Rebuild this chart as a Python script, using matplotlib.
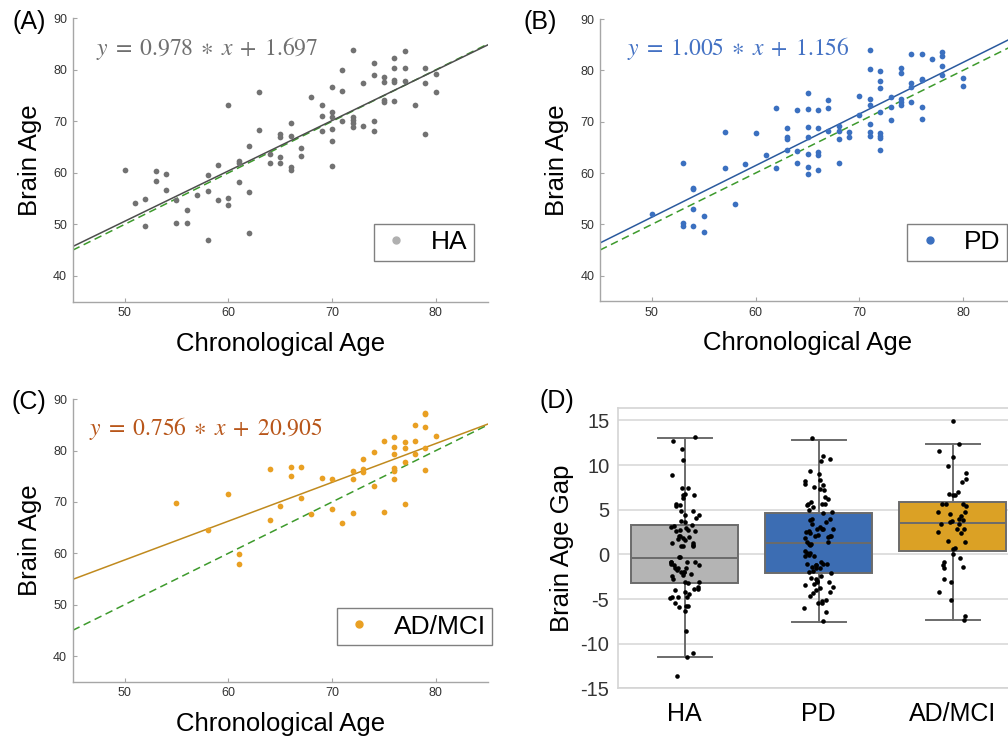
import numpy as np
import matplotlib
matplotlib.use('Agg')
import matplotlib.pyplot as plt
from matplotlib.lines import Line2D
import seaborn as sns

plt.rcParams['font.family'] = ['Liberation Sans', 'DejaVu Sans']
plt.rcParams['mathtext.fontset'] = 'stix'
plt.rcParams['axes.unicode_minus'] = False

# ---- data ----
ha_age = [50, 51, 52, 52, 53, 53, 54, 54, 55, 55, 56, 56, 57, 58, 58, 58,
          59, 59, 60, 60, 60, 61, 61, 61, 62, 62, 62, 63, 63, 64, 64,
          65, 65, 65, 65, 66, 66, 66, 66, 67, 67, 68, 69, 69, 69,
          70, 70, 70, 70, 70, 70, 71, 71, 71, 72, 72, 72, 72, 72, 73, 73,
          74, 74, 74, 74, 75, 75, 75, 75, 76, 76, 76, 76, 76,
          77, 77, 77, 78, 79, 79, 79, 80, 80]
ha_brain = [60.6, 54.1, 55.0, 49.7, 60.4, 58.5, 59.7, 56.7, 54.7, 50.2, 52.8, 50.2, 55.8, 59.6, 56.5, 46.9,
            61.6, 54.8, 73.1, 55.2, 53.7, 62.3, 61.9, 58.3, 65.2, 56.2, 48.4, 75.7, 68.4, 63.7, 62.0,
            67.6, 67.0, 63.0, 61.9, 69.7, 67.1, 61.2, 60.5, 64.8, 63.3, 74.8, 73.1, 71.1, 68.1,
            76.6, 71.8, 70.9, 68.5, 66.1, 61.4, 79.9, 75.9, 70.1, 83.8, 70.9, 70.2, 69.6, 68.9, 77.4, 69.1,
            81.4, 78.9, 70.0, 68.1, 78.6, 77.7, 74.1, 73.8, 82.3, 80.4, 78.1, 77.7, 74.0,
            83.6, 80.3, 77.9, 73.1, 80.3, 77.5, 67.5, 79.1, 75.6]

pd_age = [50, 53, 53, 53, 54, 54, 54, 54, 55, 55, 57, 57, 58, 59, 60, 61, 62, 62,
          63, 63, 63, 63, 64, 64, 64, 65, 65, 65, 65, 65, 65, 65,
          66, 66, 66, 66, 66, 67, 67, 67, 68, 68, 68, 68, 69, 69, 70, 70,
          71, 71, 71, 71, 71, 71, 71, 72, 72, 72, 72, 72, 72, 72, 72,
          73, 73, 73, 74, 74, 74, 74, 74, 75, 75, 75, 75,
          76, 76, 76, 76, 76, 77, 78, 78, 78, 78, 80, 80]
pd_brain = [52.1, 62.0, 50.2, 49.7, 57.1, 56.8, 52.9, 49.7, 51.6, 48.5, 68.0, 60.9, 54.0, 61.8, 67.8, 63.6, 72.7, 60.9,
            68.7, 67.0, 66.6, 64.4, 72.3, 64.2, 61.9, 75.5, 72.5, 69.0, 67.1, 63.8, 61.2, 59.8,
            72.2, 68.8, 64.0, 63.6, 60.6, 74.3, 72.7, 68.2, 69.2, 68.2, 66.6, 62.0, 67.9, 67.1, 75.0, 71.4,
            84.0, 80.3, 74.4, 73.2, 69.5, 67.9, 67.3, 79.9, 77.9, 76.6, 71.9, 67.8, 67.3, 66.9, 64.5,
            74.9, 72.8, 70.4, 80.4, 79.5, 74.4, 73.8, 73.2, 83.2, 77.5, 76.8, 73.8,
            83.2, 78.4, 78.1, 72.9, 70.6, 82.3, 83.6, 82.8, 80.8, 79.1, 78.5, 77.0]

ad_age = [55, 58, 60, 61, 61, 64, 64, 65, 66, 66, 67, 67, 68, 69, 70, 70, 71,
          72, 72, 72, 73, 73, 73, 74, 74, 75, 75, 76, 76, 76, 76, 76, 76,
          77, 77, 77, 77, 78, 78, 78, 79, 79, 79, 79, 79, 80]
ad_brain = [69.9, 64.6, 71.6, 59.8, 57.9, 76.4, 66.4, 69.3, 76.9, 75.1, 76.9, 70.7, 67.6, 74.7, 74.5, 68.6, 65.9,
            76.0, 74.5, 67.8, 78.4, 76.4, 75.9, 79.7, 73.2, 81.8, 68.1, 82.7, 80.8, 79.4, 76.6, 76.0, 74.5,
            81.7, 80.6, 77.7, 69.6, 85.0, 81.9, 79.4, 87.4, 87.1, 84.7, 80.5, 76.2, 82.9]

fits = {'HA': (0.978, 1.697), 'PD': (1.005, 1.156), 'AD/MCI': (0.756, 20.905)}

groups = ['HA', 'PD', 'AD/MCI']
box_q1 = [-3.17, -2.05, 0.41]
box_med = [-0.37, 1.31, 3.54]
box_q3 = [3.28, 4.63, 5.82]
box_lo = [-11.53, -7.54, -7.35]
box_hi = [13.02, 12.87, 12.35]

W, H = 1008, 736
fig = plt.figure(figsize=(W / 100, H / 100), dpi=100)


def px_axes(x0, y0, x1, y1):
    return fig.add_axes([x0 / W, 1 - y1 / H, (x1 - x0) / W, (y1 - y0) / H])


def scatter_panel(rect, age, brain, group, dot_c, leg_c, line_c, eq_c, eq_xy, leg_xy):
    ax = px_axes(*rect)
    slope, icpt = fits[group]
    xs = np.array([45.0, 85.0])
    ax.scatter(age, brain, s=17, color=dot_c, linewidths=0, zorder=3)
    ax.plot(xs, xs, color='#3d9a2c', lw=1.1, dashes=(5, 3), zorder=2)
    ax.plot(xs, slope * xs + icpt, color=line_c, lw=1.1, zorder=2)
    ax.set_xlim(45, 85)
    ax.set_ylim(35, 90)
    ax.set_xticks([50, 60, 70, 80])
    ax.set_yticks([40, 50, 60, 70, 80, 90])
    for s in ['top', 'right']:
        ax.spines[s].set_visible(False)
    for s in ['left', 'bottom']:
        ax.spines[s].set_color('#a6a6a6')
        ax.spines[s].set_linewidth(1.0)
    ax.tick_params(direction='in', length=3, color='#a6a6a6', labelsize=9,
                   labelcolor='#333333', pad=4)
    ax.set_xlabel('Chronological Age', fontsize=18.5, labelpad=9)
    ax.set_ylabel('Brain Age', fontsize=18.5, labelpad=8)
    eq = r'$y\;=\;%.3f\;\ast\;x\;+\;%.3f$' % (slope, icpt)
    fig.text(eq_xy[0] / W, 1 - eq_xy[1] / H, eq,
             color=eq_c, fontsize=17, ha='left', va='center')
    h = Line2D([], [], marker='o', ls='none', color=leg_c, markersize=5)
    ax.legend([h], [group], loc='center', bbox_to_anchor=(leg_xy[0] / W, 1 - leg_xy[1] / H),
              bbox_transform=fig.transFigure, fontsize=19, frameon=True, fancybox=False,
              edgecolor='#808080', framealpha=1, handlelength=1.2, handletextpad=0.7,
              borderpad=0.25, borderaxespad=0)
    return ax


scatter_panel((72.7, 18.3, 487.7, 301.7), ha_age, ha_brain, 'HA',
              '#727272', '#b0b0b0', '#4d4d4d', '#707070', (96, 48), (423.7, 242.5))
scatter_panel((600, 19, 1015, 301.4), pd_age, pd_brain, 'PD',
              '#3b70c0', '#3b70c0', '#2b5a9e', '#4472c4', (627, 48), (957.3, 242.5))
scatter_panel((72.7, 399.3, 487.7, 681.7), ad_age, ad_brain, 'AD/MCI',
              '#e9a023', '#e9a023', '#c08a1e', '#b8561a', (89, 429), (414.5, 626.5))

# ---- panel D: box + strip ----
axd = px_axes(617.7, 408, 1019.7, 688.3)
stats = [dict(med=m, q1=a, q3=b, whislo=lo, whishi=hi, fliers=[])
         for m, a, b, lo, hi in zip(box_med, box_q1, box_q3, box_lo, box_hi)]
bp = axd.bxp(stats, positions=[0, 1, 2], widths=0.8, capwidths=0.4, patch_artist=True,
             showfliers=False,
             boxprops=dict(edgecolor='#6b6b6b', linewidth=1.4),
             medianprops=dict(color='#6b6b6b', linewidth=1.4),
             whiskerprops=dict(color='#6b6b6b', linewidth=1.4),
             capprops=dict(color='#6b6b6b', linewidth=1.4))
for patch, fc in zip(bp['boxes'], ['#b4b4b4', '#3c6db3', '#dba125']):
    patch.set_facecolor(fc)

gaps = (list(np.array(ha_brain) - np.array(ha_age)) +
        list(np.array(pd_brain) - np.array(pd_age)) +
        list(np.array(ad_brain) - np.array(ad_age)))
labels = ['HA'] * len(ha_age) + ['PD'] * len(pd_age) + ['AD/MCI'] * len(ad_age)
np.random.seed(2)
sns.stripplot(x=labels, y=gaps, order=groups, color='black', size=3.3, jitter=0.11,
              ax=axd, zorder=4)

axd.set_xlim(-0.5, 2.5)
axd.set_ylim(-15, 16.4)
axd.set_yticks([-15, -10, -5, 0, 5, 10, 15])
axd.set_xticks([0, 1, 2])
axd.set_xticklabels(groups)
axd.yaxis.grid(True, color='#d9d9d9', lw=1.2)
axd.set_axisbelow(True)
for s in axd.spines.values():
    s.set_color('#d4d4d4')
    s.set_linewidth(1.2)
axd.tick_params(axis='y', length=0, labelsize=14.5, labelcolor='#333333', pad=6)
axd.tick_params(axis='x', length=0, labelsize=18, pad=10)
axd.set_xlabel('')
axd.set_ylabel('Brain Age Gap', fontsize=18.5, labelpad=5)

# panel letters
for txt, x, y in [('(A)', 29, 22), ('(B)', 540, 22), ('(C)', 29, 402), ('(D)', 557, 401)]:
    fig.text(x / W, 1 - y / H, txt, fontsize=18, ha='center', va='center')

fig.savefig('out.png', dpi=100)
